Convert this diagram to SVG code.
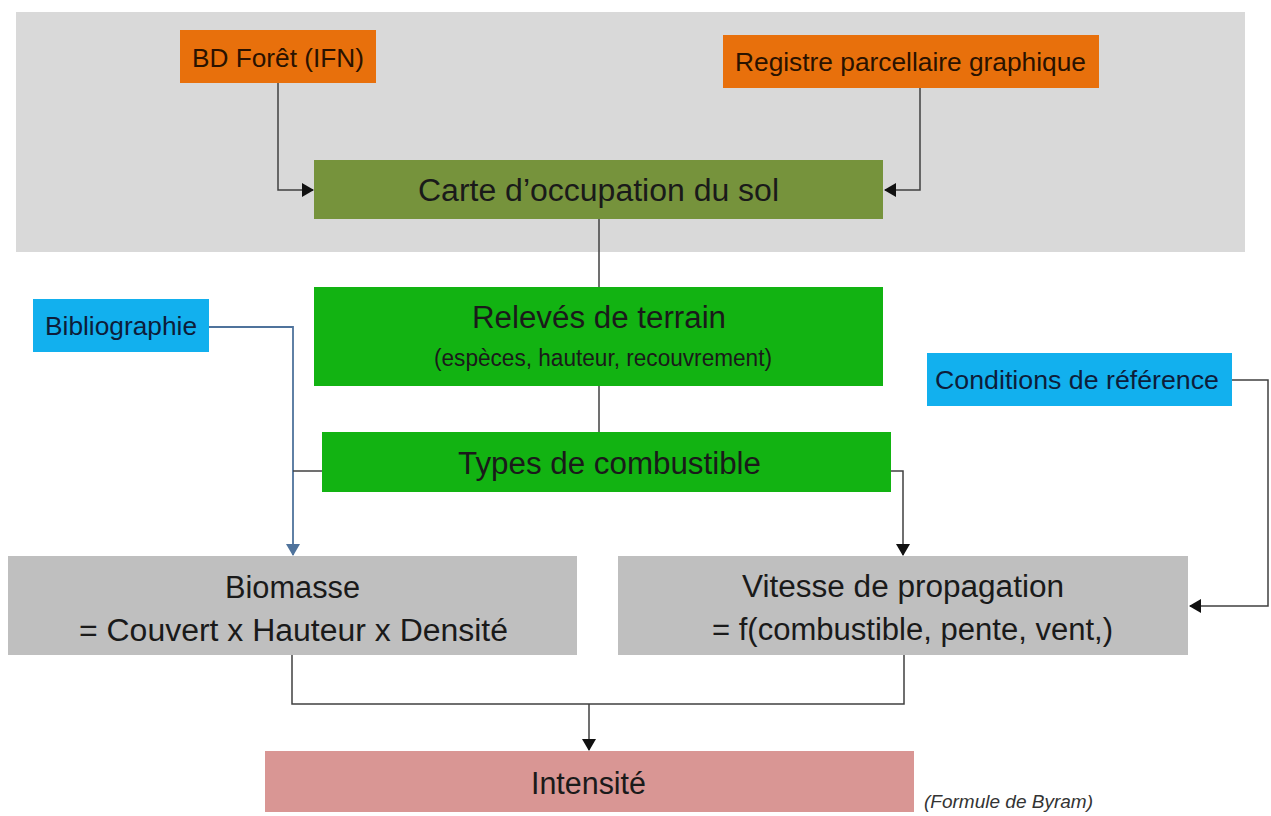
<svg xmlns="http://www.w3.org/2000/svg" width="1271" height="816" viewBox="0 0 1271 816">
<style>
text{font-family:"Liberation Sans",Arial,sans-serif;fill:#1a1a1a}
.big{font-size:31px}
.sm{font-size:26px}
.sub{font-size:23px}
.note{font-size:19px;font-style:italic;fill:#333}
.ln{fill:none;stroke:#404040;stroke-width:1.5}
.blue{fill:none;stroke:#4f739c;stroke-width:1.8}
</style>
<defs>
<marker id="ah" markerUnits="userSpaceOnUse" markerWidth="12" markerHeight="14" refX="11" refY="7" orient="auto">
<path d="M0,0 L12,7 L0,14 Z" fill="#111"/>
</marker>
<marker id="ahb" markerUnits="userSpaceOnUse" markerWidth="12" markerHeight="14" refX="11" refY="7" orient="auto">
<path d="M0,0 L12,7 L0,14 Z" fill="#4f739c"/>
</marker>
</defs>
<rect width="1271" height="816" fill="#ffffff"/>
<rect id="zone" x="16" y="12" width="1229" height="240" fill="#d9d9d9"/>

<g id="connectors">
<path class="ln" d="M278,83 V190 H313" marker-end="url(#ah)"/>
<path class="ln" d="M920,88 V190 H885" marker-end="url(#ah)"/>
<path class="ln" d="M599,219 V287"/>
<path class="ln" d="M599,386 V432"/>
<path class="blue" d="M209,327 H293 V555" marker-end="url(#ahb)"/>
<path class="ln" d="M322,471 H293"/>
<path class="ln" d="M891,471 H903 V555" marker-end="url(#ah)"/>
<path class="ln" d="M1232,380 H1268 V606 H1190" marker-end="url(#ah)"/>
<path class="ln" d="M292,655 V704 H904 V655"/>
<path class="ln" d="M589,704 V750" marker-end="url(#ah)"/>
</g>

<g id="bdforet">
<rect x="180" y="30" width="196" height="53" fill="#e8700c"/>
<text class="sm" x="192" y="67" textLength="172" lengthAdjust="spacingAndGlyphs" style="fill:#2a1200">BD Forêt (IFN)</text>
</g>
<g id="registre">
<rect x="723" y="35" width="376" height="53" fill="#e8700c"/>
<text class="sm" x="735" y="71" textLength="351" lengthAdjust="spacingAndGlyphs" style="fill:#2a1200">Registre parcellaire graphique</text>
</g>
<g id="carte">
<rect x="314" y="160" width="569" height="59" fill="#76933c"/>
<text class="big" x="418" y="201" textLength="361" lengthAdjust="spacingAndGlyphs">Carte d’occupation du sol</text>
</g>
<g id="releves">
<rect x="314" y="287" width="569" height="99" fill="#12b312"/>
<text class="big" x="472" y="328" textLength="254" lengthAdjust="spacingAndGlyphs">Relevés de terrain</text>
<text class="sub" x="434" y="366" textLength="338" lengthAdjust="spacingAndGlyphs">(espèces, hauteur, recouvrement)</text>
</g>
<g id="types">
<rect x="322" y="432" width="569" height="60" fill="#12b312"/>
<text class="big" x="458" y="474" textLength="303" lengthAdjust="spacingAndGlyphs">Types de combustible</text>
</g>
<g id="biblio">
<rect x="33" y="299" width="176" height="53" fill="#12b0ee"/>
<text class="sm" x="45" y="335" textLength="152" lengthAdjust="spacingAndGlyphs" style="fill:#0d1d3a">Bibliographie</text>
</g>
<g id="conditions">
<rect x="927" y="353" width="305" height="53" fill="#12b0ee"/>
<text class="sm" x="935" y="389" textLength="284" lengthAdjust="spacingAndGlyphs" style="fill:#0d1d3a">Conditions de référence</text>
</g>
<g id="biomasse">
<rect x="8" y="556" width="569" height="99" fill="#bfbfbf"/>
<text class="big" x="225" y="598" textLength="135" lengthAdjust="spacingAndGlyphs">Biomasse</text>
<text class="big" x="79" y="641" textLength="429" lengthAdjust="spacingAndGlyphs">= Couvert x Hauteur x Densité</text>
</g>
<g id="vitesse">
<rect x="618" y="556" width="570" height="99" fill="#bfbfbf"/>
<text class="big" x="742" y="597" textLength="322" lengthAdjust="spacingAndGlyphs">Vitesse de propagation</text>
<text class="big" x="712" y="640" textLength="401" lengthAdjust="spacingAndGlyphs">= f(combustible, pente, vent,)</text>
</g>
<g id="intensite">
<rect x="265" y="751" width="649" height="61" fill="#d99694"/>
<text class="big" x="531" y="794" textLength="115" lengthAdjust="spacingAndGlyphs">Intensité</text>
</g>
<text class="note" x="924" y="808" textLength="169" lengthAdjust="spacingAndGlyphs">(Formule de Byram)</text>
</svg>
